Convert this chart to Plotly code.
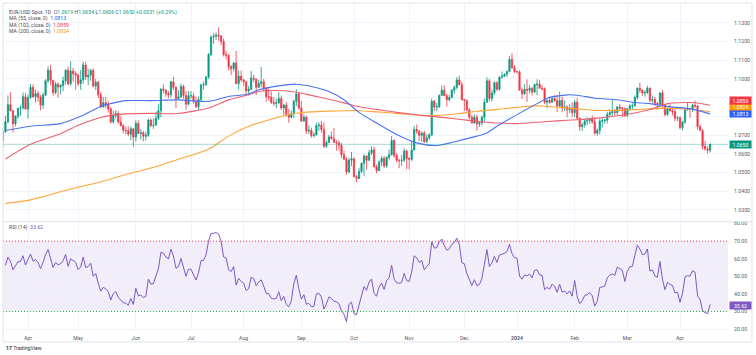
import numpy as np
import pandas as pd
import plotly.graph_objects as go

# ---------------- data (EUR/USD daily) ----------------
start_date = "2023-03-01"
end_date = "2024-04-17"

opens = [
    # Mar 2023
    1.0577,1.0666,1.0597,1.0634,1.0683,1.0550,1.0545,1.0581,1.0640,1.0732,1.0733,1.0577,1.0610,1.0669,1.0718,1.0771,1.0862,1.0830,1.0760,1.0800,1.0843,1.0845,1.0905,
    # Apr 2023
    1.0839,1.0900,1.0955,1.0905,1.0922,1.0903,1.0860,1.0914,1.0990,1.1047,1.0993,1.0927,1.0972,1.0957,1.0965,1.0990,1.1047,1.0974,1.1042,1.1028,
    # May 2023
    1.1020,1.0975,1.0995,1.1075,1.1011,1.1020,1.1045,1.0962,1.0982,1.0915,1.0850,1.0873,1.0862,1.0840,1.0770,1.0805,1.0815,1.0770,1.0750,1.0725,1.0723,1.0705,1.0733,
    # Jun 2023
    1.0689,1.0762,1.0708,1.0712,1.0693,1.0699,1.0780,1.0750,1.0752,1.0790,1.0830,1.0945,1.0940,1.0922,1.0915,1.0985,1.0955,1.0895,1.0905,1.0960,1.0912,1.0865,
    # Jul 2023
    1.0910,1.0910,1.0880,1.0852,1.0890,1.0968,1.0970,1.1010,1.1130,1.1225,1.1228,1.1235,1.1230,1.1200,1.1130,1.1125,1.1065,1.1055,1.1085,1.0975,1.1015,
    # Aug 2023
    1.0995,1.0985,1.0935,1.0945,1.1005,1.0999,1.0955,1.0975,1.0985,1.0950,1.0905,1.0903,1.0875,1.0870,1.0872,1.0895,1.0845,1.0860,1.0810,1.0795,1.0815,1.0880,1.0920,
    # Sep 2023
    1.0845,1.0775,1.0795,1.0722,1.0725,1.0698,1.0700,1.0750,1.0753,1.0730,1.0640,1.0660,1.0690,1.0680,1.0660,1.0658,1.0645,1.0595,1.0570,1.0502,1.0565,
    # Oct 2023
    1.0573,1.0477,1.0467,1.0505,1.0548,1.0588,1.0565,1.0605,1.0620,1.0530,1.0510,1.0555,1.0575,1.0535,1.0580,1.0595,1.0670,1.0590,1.0565,1.0563,1.0566,1.0615,
    # Nov 2023
    1.0575,1.0570,1.0620,1.0730,1.0720,1.0698,1.0710,1.0665,1.0685,1.0700,1.0880,1.0850,1.0852,1.0912,1.0940,1.0910,1.0890,1.0900,1.0940,1.0955,1.0995,1.0970,
    # Dec 2023
    1.0890,1.0885,1.0835,1.0795,1.0765,1.0795,1.0760,1.0765,1.0795,1.0875,1.0990,1.0895,1.0925,1.0980,1.0945,1.1010,1.1015,1.1025,1.1040,1.1105,1.1060,
    # Jan 2024
    1.1040,1.1038,1.0940,1.0920,1.0945,1.0940,1.0950,1.0930,1.0970,1.0973,1.0950,1.0947,1.0875,1.0885,1.0875,1.0895,1.0885,1.0855,1.0885,1.0845,1.0850,1.0835,1.0845,
    # Feb 2024
    1.0820,1.0875,1.0790,1.0745,1.0755,1.0775,1.0778,1.0785,1.0770,1.0710,1.0725,1.0775,1.0777,1.0780,1.0810,1.0820,1.0825,1.0820,1.0850,1.0845,1.0840,
    # Mar 2024
    1.0805,1.0840,1.0855,1.0857,1.0900,1.0950,1.0940,1.0925,1.0927,1.0950,1.0885,1.0890,1.0870,1.0865,1.0925,1.0860,1.0810,1.0840,1.0830,1.0825,1.0790,
    # Apr 2024
    1.0792,1.0740,1.0770,1.0835,1.0840,1.0838,1.0860,1.0855,1.0745,1.0725,1.0640,1.0625,1.0619,
]

highs = [
    1.0691,1.0669,1.0637,1.0694,1.0695,1.0568,1.0583,1.0700,1.0736,1.0759,1.0760,1.0636,1.0671,1.0731,1.0803,1.0912,1.0930,1.0835,1.0806,1.0846,1.0860,1.0928,1.0925,
    1.0917,1.0973,1.0971,1.0942,1.0937,1.0914,1.0927,1.0998,1.1067,1.1075,1.0993,1.0985,1.0982,1.0973,1.1012,1.1050,1.1067,1.1095,1.1060,1.1042,
    1.1030,1.1048,1.1092,1.1092,1.1054,1.1055,1.1056,1.1000,1.0990,1.0930,1.0904,1.0904,1.0882,1.0848,1.0829,1.0834,1.0829,1.0800,1.0760,1.0746,1.0745,1.0746,1.0736,
    1.0779,1.0779,1.0731,1.0722,1.0718,1.0787,1.0788,1.0788,1.0823,1.0865,1.0952,1.0971,1.0945,1.0935,1.0990,1.1012,1.0960,1.0940,1.0976,1.0970,1.0935,1.0934,
    1.0935,1.0925,1.0905,1.0905,1.0975,1.0986,1.1016,1.1139,1.1234,1.1245,1.1250,1.1276,1.1233,1.1215,1.1150,1.1135,1.1075,1.1090,1.1150,1.1045,1.1046,
    1.1000,1.0990,1.0962,1.1042,1.1021,1.1001,1.0996,1.1064,1.1000,1.0956,1.0949,1.0934,1.0903,1.0895,1.0930,1.0911,1.0866,1.0878,1.0840,1.0832,1.0890,1.0945,1.0929,
    1.0882,1.0810,1.0804,1.0751,1.0740,1.0715,1.0765,1.0768,1.0775,1.0768,1.0670,1.0701,1.0719,1.0737,1.0673,1.0671,1.0658,1.0617,1.0582,1.0579,1.0609,
    1.0580,1.0485,1.0525,1.0554,1.0596,1.0590,1.0621,1.0640,1.0637,1.0543,1.0565,1.0588,1.0587,1.0587,1.0621,1.0695,1.0677,1.0603,1.0574,1.0593,1.0629,1.0622,
    1.0580,1.0669,1.0748,1.0756,1.0726,1.0719,1.0724,1.0704,1.0710,1.0895,1.0888,1.0872,1.0917,1.0965,1.0966,1.0920,1.0915,1.0946,1.0965,1.1010,1.1017,1.0985,
    1.0893,1.0890,1.0845,1.0808,1.0810,1.0810,1.0775,1.0805,1.0895,1.1009,1.1000,1.0941,1.0988,1.0987,1.1013,1.1040,1.1030,1.1045,1.1122,1.1139,1.1075,
    1.1045,1.1046,1.0955,1.0972,1.0998,1.0968,1.0957,1.0975,1.0998,1.0995,1.0968,1.0955,1.0890,1.0905,1.0910,1.0915,1.0915,1.0932,1.0905,1.0885,1.0860,1.0865,1.0875,
    1.0888,1.0897,1.0795,1.0765,1.0786,1.0795,1.0792,1.0805,1.0795,1.0735,1.0787,1.0790,1.0787,1.0825,1.0837,1.0889,1.0838,1.0855,1.0865,1.0850,1.0848,
    1.0845,1.0866,1.0870,1.0912,1.0955,1.0981,1.0945,1.0940,1.0964,1.0955,1.0910,1.0905,1.0875,1.0930,1.0942,1.0865,1.0845,1.0865,1.0845,1.0838,1.0800,
    1.0800,1.0775,1.0840,1.0876,1.0845,1.0868,1.0885,1.0862,1.0756,1.0730,1.0669,1.0640,1.0654,
]

lows = [
    1.0575,1.0588,1.0580,1.0612,1.0548,1.0524,1.0538,1.0570,1.0630,1.0680,1.0516,1.0570,1.0605,1.0635,1.0711,1.0762,1.0827,1.0713,1.0746,1.0786,1.0802,1.0836,1.0836,
    1.0788,1.0894,1.0899,1.0875,1.0878,1.0832,1.0840,1.0908,1.0977,1.0967,1.0910,1.0917,1.0900,1.0917,1.0936,1.0970,1.0965,1.0963,1.0985,1.0942,
    1.0962,1.0942,1.0975,1.0995,1.0967,1.0990,1.0955,1.0941,1.0897,1.0846,1.0848,1.0842,1.0820,1.0761,1.0761,1.0790,1.0760,1.0747,1.0709,1.0703,1.0696,1.0672,1.0635,
    1.0665,1.0706,1.0675,1.0666,1.0671,1.0690,1.0746,1.0733,1.0752,1.0780,1.0795,1.0925,1.0905,1.0896,1.0900,1.0941,1.0844,1.0887,1.0897,1.0895,1.0835,1.0860,
    1.0893,1.0867,1.0844,1.0833,1.0877,1.0943,1.0961,1.1000,1.1122,1.1188,1.1208,1.1204,1.1180,1.1120,1.1105,1.1045,1.1020,1.1040,1.0970,1.0943,1.0985,
    1.0962,1.0912,1.0912,1.0940,1.0982,1.0914,1.0954,1.0955,1.0931,1.0878,1.0883,1.0866,1.0856,1.0844,1.0867,1.0834,1.0802,1.0799,1.0765,1.0788,1.0791,1.0855,1.0835,
    1.0770,1.0770,1.0705,1.0705,1.0686,1.0686,1.0700,1.0722,1.0712,1.0632,1.0631,1.0656,1.0676,1.0660,1.0616,1.0616,1.0576,1.0569,1.0488,1.0495,1.0534,
    1.0475,1.0448,1.0465,1.0497,1.0482,1.0516,1.0561,1.0592,1.0526,1.0495,1.0505,1.0534,1.0523,1.0525,1.0567,1.0590,1.0577,1.0555,1.0522,1.0534,1.0555,1.0516,
    1.0516,1.0560,1.0618,1.0706,1.0667,1.0663,1.0656,1.0656,1.0673,1.0695,1.0828,1.0827,1.0845,1.0910,1.0910,1.0852,1.0880,1.0900,1.0922,1.0945,1.0965,1.0885,
    1.0828,1.0825,1.0784,1.0762,1.0760,1.0723,1.0743,1.0750,1.0773,1.0873,1.0880,1.0880,1.0914,1.0935,1.0938,1.1000,1.1010,1.1010,1.1035,1.1055,1.1032,
    1.1030,1.0939,1.0893,1.0915,1.0877,1.0923,1.0910,1.0925,1.0912,1.0950,1.0938,1.0865,1.0844,1.0866,1.0874,1.0878,1.0822,1.0850,1.0822,1.0828,1.0795,1.0818,1.0795,
    1.0795,1.0780,1.0723,1.0722,1.0740,1.0752,1.0760,1.0760,1.0700,1.0695,1.0702,1.0740,1.0760,1.0762,1.0795,1.0800,1.0805,1.0805,1.0830,1.0795,1.0795,
    1.0795,1.0830,1.0836,1.0850,1.0890,1.0925,1.0910,1.0905,1.0920,1.0875,1.0870,1.0855,1.0835,1.0850,1.0845,1.0800,1.0802,1.0825,1.0805,1.0775,1.0775,
    1.0730,1.0724,1.0760,1.0830,1.0792,1.0822,1.0845,1.0728,1.0722,1.0622,1.0615,1.0601,1.0606,
]

closes = [
    1.0666,1.0597,1.0634,1.0683,1.0550,1.0545,1.0581,1.0640,1.0732,1.0733,1.0577,1.0610,1.0669,1.0718,1.0771,1.0862,1.0830,1.0760,1.0800,1.0843,1.0845,1.0905,1.0839,
    1.0900,1.0955,1.0905,1.0922,1.0903,1.0860,1.0914,1.0990,1.1047,1.0993,1.0927,1.0972,1.0957,1.0965,1.0990,1.1047,1.0974,1.1042,1.1028,1.1020,
    1.0975,1.0995,1.1075,1.1011,1.1020,1.1045,1.0962,1.0982,1.0915,1.0850,1.0873,1.0862,1.0840,1.0770,1.0805,1.0815,1.0770,1.0750,1.0725,1.0723,1.0705,1.0733,1.0689,
    1.0762,1.0708,1.0712,1.0693,1.0699,1.0780,1.0750,1.0752,1.0790,1.0830,1.0945,1.0940,1.0922,1.0915,1.0985,1.0955,1.0895,1.0905,1.0960,1.0912,1.0865,1.0910,
    1.0910,1.0880,1.0852,1.0890,1.0968,1.0970,1.1010,1.1130,1.1225,1.1228,1.1235,1.1230,1.1200,1.1130,1.1125,1.1065,1.1055,1.1085,1.0975,1.1015,1.0995,
    1.0985,1.0935,1.0945,1.1005,1.0999,1.0955,1.0975,1.0985,1.0950,1.0905,1.0903,1.0875,1.0870,1.0872,1.0895,1.0845,1.0860,1.0810,1.0795,1.0815,1.0880,1.0920,1.0845,
    1.0775,1.0795,1.0722,1.0725,1.0698,1.0700,1.0750,1.0753,1.0730,1.0640,1.0660,1.0690,1.0680,1.0660,1.0658,1.0645,1.0595,1.0570,1.0502,1.0565,1.0573,
    1.0477,1.0467,1.0505,1.0548,1.0588,1.0565,1.0605,1.0620,1.0530,1.0510,1.0555,1.0575,1.0535,1.0580,1.0595,1.0670,1.0590,1.0565,1.0563,1.0566,1.0615,1.0575,
    1.0570,1.0620,1.0730,1.0720,1.0698,1.0710,1.0665,1.0685,1.0700,1.0880,1.0850,1.0852,1.0912,1.0940,1.0910,1.0890,1.0900,1.0940,1.0955,1.0995,1.0970,1.0890,
    1.0885,1.0835,1.0795,1.0765,1.0795,1.0760,1.0765,1.0795,1.0875,1.0990,1.0895,1.0925,1.0980,1.0945,1.1010,1.1015,1.1025,1.1040,1.1105,1.1060,1.1040,
    1.1038,1.0940,1.0920,1.0945,1.0940,1.0950,1.0930,1.0970,1.0973,1.0950,1.0947,1.0875,1.0885,1.0875,1.0895,1.0885,1.0855,1.0885,1.0845,1.0850,1.0835,1.0845,1.0820,
    1.0875,1.0790,1.0745,1.0755,1.0775,1.0778,1.0785,1.0770,1.0710,1.0725,1.0775,1.0777,1.0780,1.0810,1.0820,1.0825,1.0820,1.0850,1.0845,1.0840,1.0805,
    1.0840,1.0855,1.0857,1.0900,1.0950,1.0940,1.0925,1.0927,1.0950,1.0885,1.0890,1.0870,1.0865,1.0925,1.0860,1.0810,1.0840,1.0830,1.0825,1.0790,1.0792,
    1.0740,1.0770,1.0835,1.0840,1.0838,1.0860,1.0855,1.0745,1.0725,1.0640,1.0625,1.0619,1.0650,
]

ma_dates = ["2023-03-21","2023-04-04","2023-04-20","2023-05-02","2023-05-12","2023-05-18","2023-05-26",
            "2023-06-09","2023-06-26","2023-07-12","2023-07-24","2023-08-03","2023-08-09","2023-08-21",
            "2023-08-30","2023-09-07","2023-09-18","2023-09-26","2023-10-04","2023-10-13","2023-10-25",
            "2023-11-06","2023-11-16","2023-11-28","2023-12-08","2023-12-14","2023-12-20","2024-01-01",
            "2024-01-11","2024-01-17","2024-01-29","2024-02-02","2024-02-13","2024-02-26","2024-03-06",
            "2024-03-14","2024-03-25","2024-04-03","2024-04-09","2024-04-17"]
ma55 = [1.0724,1.0747,1.0761,1.0800,1.0853,1.0868,1.0884,1.0884,1.0888,1.0880,1.0906,1.0919,1.0942,1.0963,
        1.0972,1.0960,1.0933,1.0889,1.0821,1.0764,1.0703,1.0658,1.0644,1.0667,1.0694,1.0711,1.0747,1.0809,
        1.0868,1.0897,1.0915,1.0913,1.0897,1.0889,1.0874,1.0868,1.0853,1.0844,1.0836,1.0813]
ma102 = [1.0572,1.0651,1.0707,1.0757,1.0794,1.0805,1.0813,1.0816,1.0815,1.0845,1.0888,1.0915,1.0933,1.0938,
         1.0929,1.0912,1.0891,1.0872,1.0851,1.0837,1.0821,1.0808,1.0797,1.0786,1.0773,1.0768,1.0764,1.0761,
         1.0768,1.0772,1.0779,1.0782,1.0789,1.0803,1.0818,1.0836,1.0868,1.0874,1.0873,1.0859]
ma200 = [1.0334,1.0353,1.0396,1.0424,1.0449,1.0465,1.0489,1.0523,1.0570,1.0624,1.0694,1.0747,1.0764,1.0796,
         1.0816,1.0824,1.0828,1.0830,1.0830,1.0824,1.0816,1.0806,1.0805,1.0814,1.0827,1.0832,1.0837,1.0848,
         1.0856,1.0853,1.0844,1.0840,1.0832,1.0832,1.0836,1.0840,1.0844,1.0840,1.0835,1.0824]

month_labels = ["Apr", "May", "Jun", "Jul", "Aug", "Sep", "Oct", "Nov", "Dec", "<b>2024</b>", "Feb", "Mar", "Apr"]
price_ticks = [1.03, 1.04, 1.05, 1.06, 1.07, 1.08, 1.09, 1.10, 1.11, 1.12, 1.13]
# 1.0800 and 1.0900 sit behind the MA value boxes on the scale
price_tick_text = ["1.0300", "1.0400", "1.0500", "1.0600", "1.0700", "", "", "1.1000", "1.1100", "1.1200", "1.1300"]
rsi_ticks = [20, 30, 40, 50, 60, 70, 80]
rsi_period = 14

# ---------------- derived ----------------
dates = pd.bdate_range(start_date, end_date)
n = len(dates)
assert n == len(opens) == len(highs) == len(lows) == len(closes), (n, len(opens), len(highs), len(lows), len(closes))
xi = list(range(n))
date_index = {d.strftime("%Y-%m-%d"): i for i, d in enumerate(dates)}
ma_x = [date_index[d] for d in ma_dates]


def wilder_rsi(c, period):
    c = np.asarray(c, float)
    d = np.diff(c)
    g = np.where(d > 0, d, 0.0)
    l = np.where(d < 0, -d, 0.0)
    out = np.full(len(c), np.nan)
    ag, al = g[:period].mean(), l[:period].mean()
    out[period] = 100 - 100 / (1 + ag / al)
    for i in range(period + 1, len(c)):
        ag = (ag * (period - 1) + g[i - 1]) / period
        al = (al * (period - 1) + l[i - 1]) / period
        out[i] = 100 - 100 / (1 + ag / al)
    return out


rsi = wilder_rsi(closes, rsi_period)

# month tick positions (first trading day of each month, from April 2023)
tick_pos = []
prev = None
for i, d in enumerate(dates):
    key = (d.year, d.month)
    if key != prev:
        if i > 0:
            tick_pos.append(i)
        prev = key

GREEN = "#089981"
RED = "#F23645"
BLUE = "#2962FF"
ORANGE = "#FF9800"
PURPLE = "#7E57C2"
GRID = "#f0f3fa"
TXT = "#4a4d57"
TICK = "#555a66"
FONT = "Roboto"
FS = 5.2

fig = go.Figure()
fig.add_trace(go.Candlestick(
    x=xi, open=opens, high=highs, low=lows, close=closes,
    increasing=dict(line=dict(color=GREEN, width=0.8), fillcolor=GREEN),
    decreasing=dict(line=dict(color=RED, width=0.8), fillcolor=RED),
    whiskerwidth=0, showlegend=False, hoverinfo="skip", xaxis="x", yaxis="y"))

for vals, col in [(ma200, "#FFA53A"), (ma102, "#F0606E"), (ma55, "#4B74F5")]:
    fig.add_trace(go.Scatter(x=ma_x, y=vals, mode="lines",
                             line=dict(color=col, width=1.1, shape="spline", smoothing=0.7),
                             showlegend=False, hoverinfo="skip", xaxis="x", yaxis="y"))

fig.add_trace(go.Scatter(x=xi, y=rsi, mode="lines", line=dict(color=PURPLE, width=1),
                         showlegend=False, hoverinfo="skip", xaxis="x2", yaxis="y2"))

x_range = [13.03, 302.14]

fig.update_layout(
    width=756, height=355,
    margin=dict(l=3, r=28, t=1, b=24),
    paper_bgcolor="white", plot_bgcolor="white",
    font=dict(family=FONT, size=FS, color=TXT),
    showlegend=False, hovermode=False,
    xaxis=dict(domain=[0, 1], range=x_range, anchor="y", showticklabels=False,
               tickvals=tick_pos, showgrid=True, gridcolor=GRID, gridwidth=1,
               zeroline=False, showline=False, rangeslider=dict(visible=False), fixedrange=True),
    xaxis2=dict(domain=[0, 1], range=x_range, anchor="y2", matches="x",
                tickvals=tick_pos, ticktext=month_labels, showgrid=True, gridcolor=GRID,
                zeroline=False, showline=False, ticks="outside", ticklen=2,
                tickcolor="rgba(0,0,0,0)", tickfont=dict(size=FS, color=TICK)),
    yaxis=dict(domain=[0.3333, 1], range=[1.02362, 1.14064], side="right", anchor="x",
               tickvals=price_ticks, ticktext=price_tick_text, showgrid=True, gridcolor=GRID,
               zeroline=False, showline=False, ticks="outside", ticklen=4,
               tickcolor="rgba(0,0,0,0)", tickfont=dict(size=FS, color=TICK)),
    yaxis2=dict(domain=[0, 0.3303], range=[18.87, 80.57], side="right", anchor="x2",
                tickvals=rsi_ticks, tickformat=".2f", showgrid=True, gridcolor=GRID,
                zeroline=False, showline=False, ticks="outside", ticklen=4,
                tickcolor="rgba(0,0,0,0)", tickfont=dict(size=FS, color=TICK)),
)

shapes = [
    # RSI band
    dict(type="rect", xref="paper", yref="y2", x0=0, x1=1, y0=30, y1=70,
         fillcolor="rgba(126,87,194,0.10)", line=dict(width=0), layer="below"),
    dict(type="line", xref="paper", yref="y2", x0=0, x1=1, y0=70, y1=70,
         line=dict(color=RED, width=1, dash="1px,2px")),
    dict(type="line", xref="paper", yref="y2", x0=0, x1=1, y0=30, y1=30,
         line=dict(color="#2fb344", width=1, dash="1px,2px")),
    # last price line
    dict(type="line", xref="paper", yref="y", x0=0, x1=1, y0=closes[-1], y1=closes[-1],
         line=dict(color="rgba(8,153,129,0.35)", width=1)),
    # pane separator
    dict(type="line", xref="paper", yref="paper", x0=0, x1=1.0331, y0=0.3333, y1=0.3333,
         line=dict(color="#e0e3eb", width=1)),
    # frame
    dict(type="rect", xref="paper", yref="paper", x0=0, x1=1.0331, y0=-0.0333, y1=1.0,
         line=dict(color="#e0e3eb", width=1), fillcolor="rgba(0,0,0,0)"),
]
fig.update_layout(shapes=shapes)


def span(t, c):
    return f"<span style='color:{c}'>{t}</span>"


g = GREEN
legend_lines = [
    "EUR/USD Spot, 1D  O" + span(f"{opens[-1]:.4f}", g) + " H" + span(f"{highs[-1]:.4f}", g)
    + " L" + span(f"{lows[-1]:.4f}", g) + " C" + span(f"{closes[-1]:.4f}", g) + " "
    + span(f"+{closes[-1]-closes[-2]:.4f} (+{(closes[-1]/closes[-2]-1)*100:.2f}%)", g),
    "MA (55, close, 0)  " + span(f"{ma55[-1]:.4f}", BLUE),
    "MA (102, close, 0)  " + span(f"{ma102[-1]:.4f}", RED),
    "MA (200, close, 0)  " + span(f"{ma200[-1]:.4f}", ORANGE),
]
ann = []
for k, t in enumerate(legend_lines):
    ann.append(dict(xref="paper", yref="paper", x=0, y=1, xanchor="left", yanchor="middle",
                    xshift=4, yshift=-(9 + 6.6 * k), text=t, showarrow=False,
                    font=dict(size=FS, color=TXT)))
ann.append(dict(xref="paper", yref="paper", x=0, y=0.3303, xanchor="left", yanchor="middle",
                xshift=4, yshift=-5, text="RSI (14)  " + span("33.62", PURPLE), showarrow=False,
                font=dict(size=FS, color=TXT)))

# right-scale value boxes
for val, col, ys, yr, fmt in [(closes[-1], GREEN, 0, "y", ".4f"),
                              (ma55[-1], BLUE, 0, "y", ".4f"),
                              (ma200[-1], ORANGE, 5, "y", ".4f"),
                              (ma102[-1], RED, 5, "y", ".4f"),
                              (33.62, PURPLE, 0, "y2", ".2f")]:
    ann.append(dict(xref="paper", yref=yr, x=1, y=val, xanchor="left", yanchor="middle",
                    xshift=1, yshift=ys, text=format(val, fmt), showarrow=False,
                    bgcolor=col, width=21, height=7, borderpad=0,
                    font=dict(size=FS, color="white")))

ann.append(dict(xref="paper", yref="paper", x=0, y=0, xanchor="left", yanchor="middle",
                xshift=1, yshift=-17, text="<b>17</b> TradingView", showarrow=False,
                font=dict(size=FS, color="#2a2e39")))
fig.update_layout(annotations=ann)

fig.write_html("out.html", config={"displayModeBar": False, "staticPlot": True},
               post_script="document.body.style.margin='0px';document.body.style.padding='0px';")
